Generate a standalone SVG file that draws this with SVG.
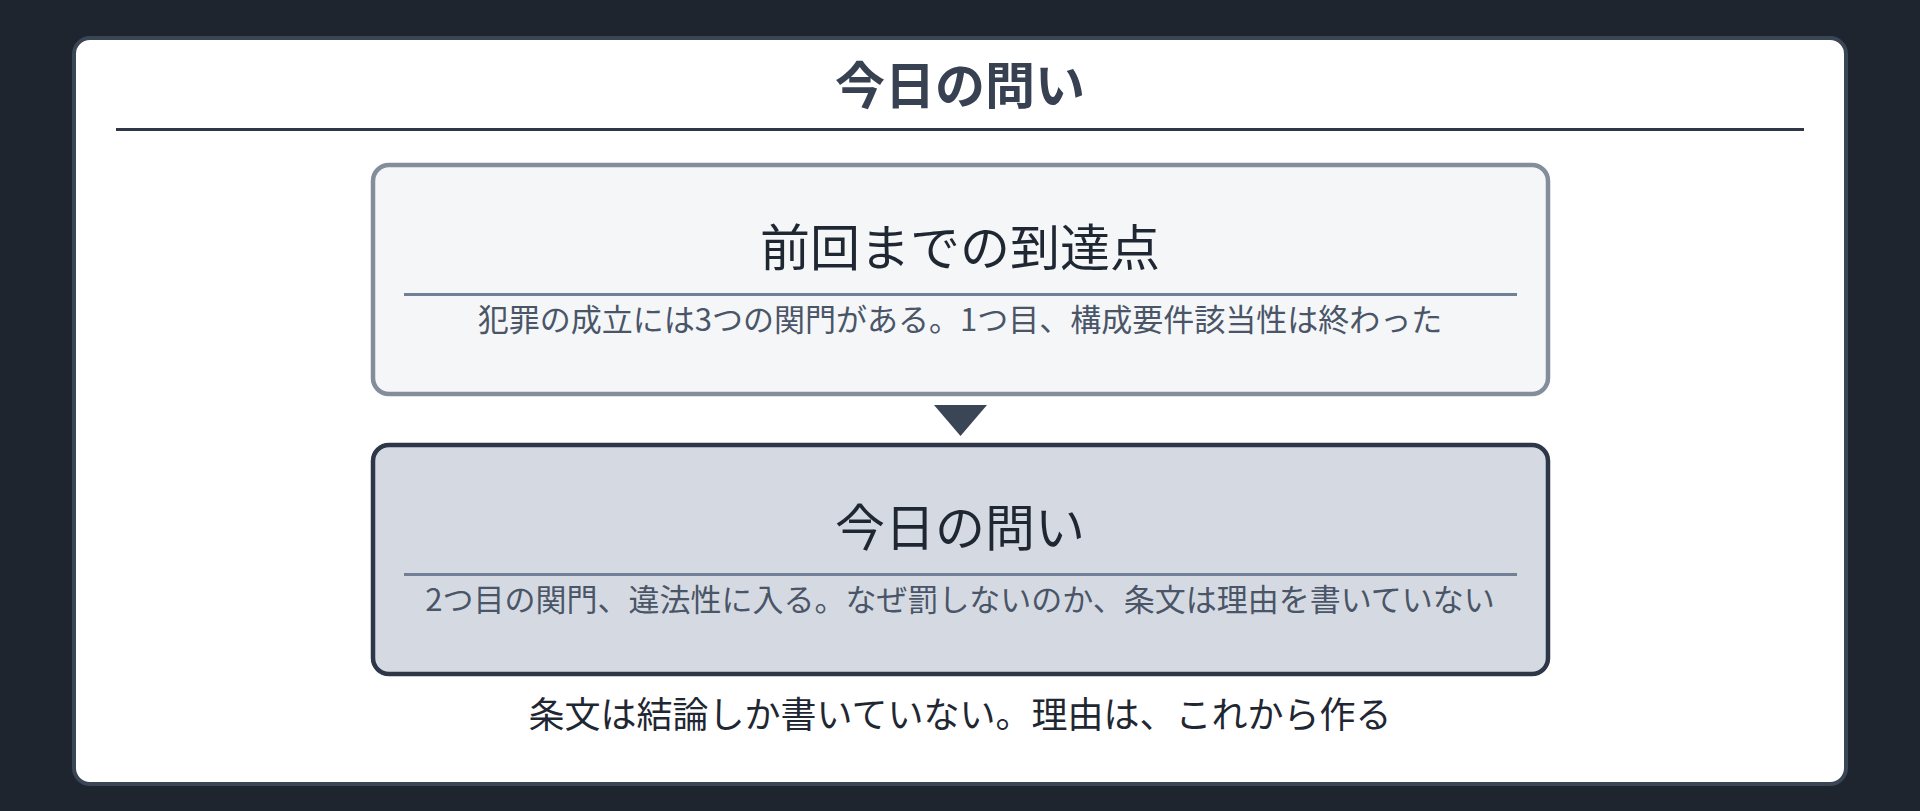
<svg xmlns="http://www.w3.org/2000/svg" width="1920" height="811" viewBox="0 0 1920 811">
<style>
text{font-family:"Noto Sans CJK JP","Noto Sans",sans-serif;text-anchor:middle}
.head{font-size:50px;font-weight:700;fill:#374151}
.ttl{font-size:50px;fill:#1f2733}
.sub{font-size:31px;fill:#4a5568}
.cap{font-size:36px;fill:#1f2733}
.div{stroke:#718096;stroke-width:3}
</style>
<rect x="0" y="0" width="1920" height="811" fill="#1e252f"/>
<rect x="74" y="38" width="1772" height="746" rx="16" fill="#ffffff" stroke="#3a4555" stroke-width="4"/>
<g id="title">
<text class="head" x="960" y="104">今日の問い</text>
<line x1="116" y1="129.5" x2="1804" y2="129.5" stroke="#2d3748" stroke-width="3"/>
</g>
<g id="node-prev">
<rect x="373" y="165" width="1175" height="229" rx="16" fill="#f5f6f8" stroke="#848d9b" stroke-width="4.5"/>
<text class="ttl" x="960" y="266">前回までの到達点</text>
<line class="div" x1="404" y1="294.5" x2="1517" y2="294.5"/>
<text class="sub" x="960" y="331">犯罪の成立には3つの関門がある。1つ目、構成要件該当性は終わった</text>
</g>
<g id="connectors">
<polygon points="934,405 987,405 960.5,436" fill="#3a4555"/>
</g>
<g id="node-today">
<rect x="373" y="445" width="1175" height="229" rx="16" fill="#d5dae2" stroke="#2d3748" stroke-width="4.5"/>
<text class="ttl" x="960" y="546">今日の問い</text>
<line class="div" x1="404" y1="574.5" x2="1517" y2="574.5"/>
<text class="sub" x="960" y="611">2つ目の関門、違法性に入る。なぜ罰しないのか、条文は理由を書いていない</text>
</g>
<g id="caption">
<text class="cap" x="960" y="728">条文は結論しか書いていない。理由は、これから作る</text>
</g>
</svg>
